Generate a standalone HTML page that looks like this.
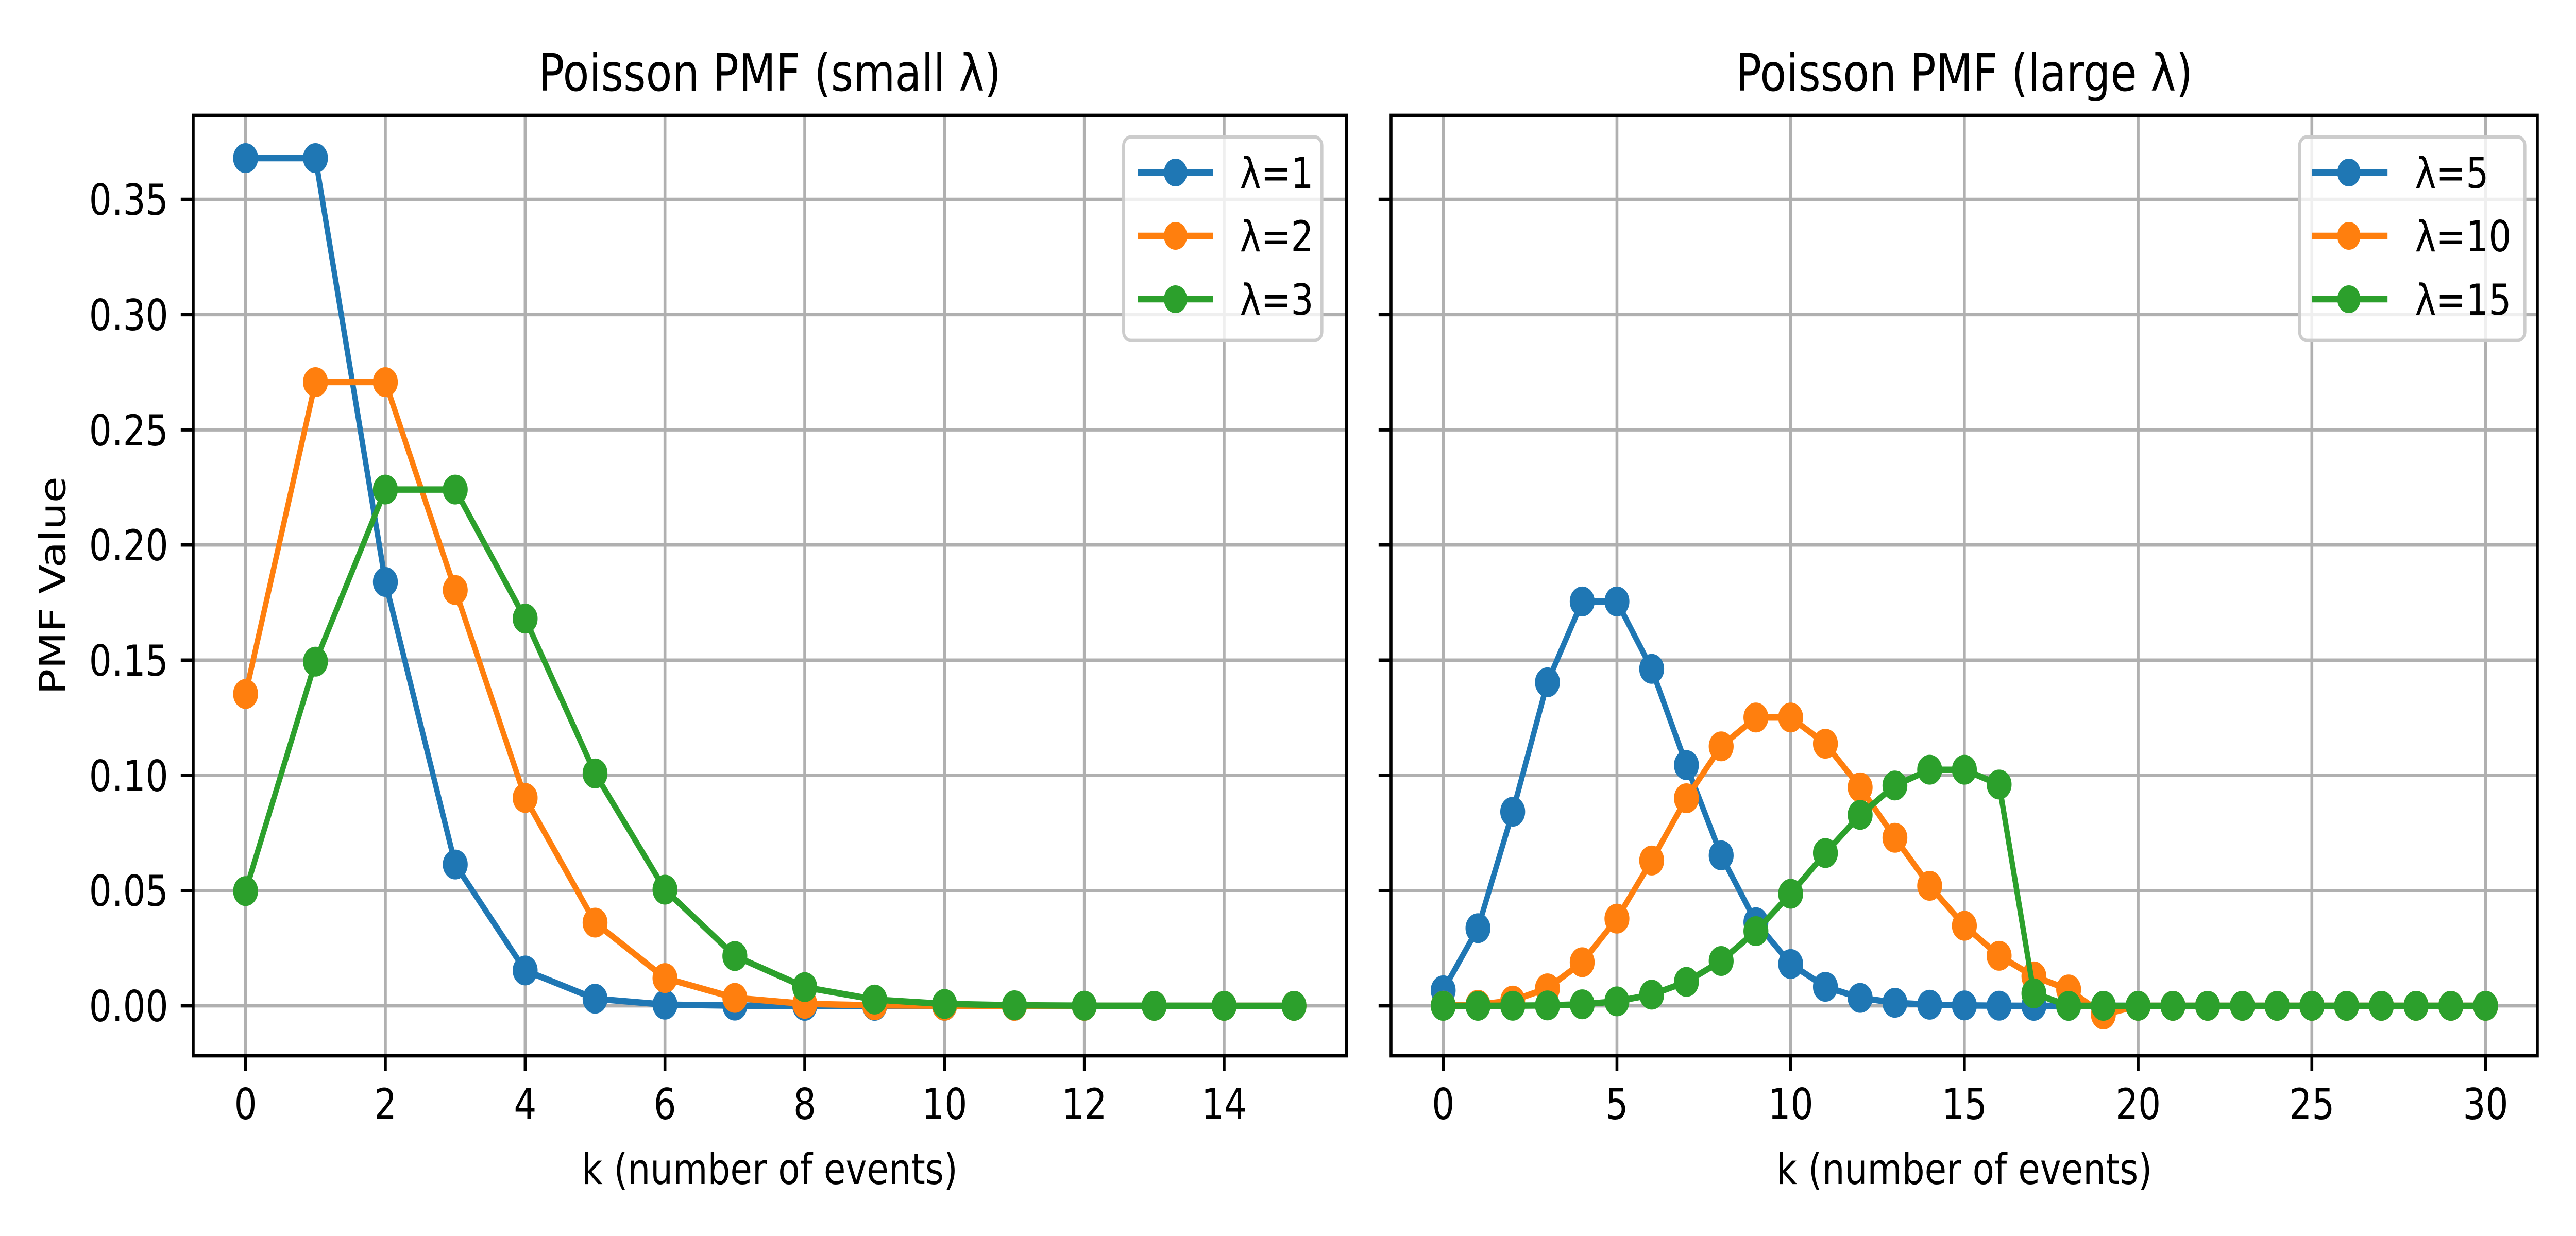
<!DOCTYPE html>
<html><head><meta charset="utf-8"><style>
html,body{margin:0;padding:0;background:#fff;width:100%;height:100%;overflow:hidden;}
svg{display:block;width:100vw;height:100vh;font-family:"DejaVu Sans","Liberation Sans",sans-serif;}
</style></head><body>
<svg id="s" viewBox="0 0 6000 2400" preserveAspectRatio="none" xmlns="http://www.w3.org/2000/svg">
<rect width="6000" height="2400" fill="#fff"/>
<g id="grid" stroke="#b0b0b0" stroke-width="6.7"></g>
<g id="series"></g>
<g id="frames" fill="none" stroke="#000" stroke-width="6.7">
<rect x="450" y="224" width="2686" height="1826"/>
<rect x="3240" y="224" width="2670" height="1826"/>
</g>
<g id="ticks" stroke="#000" stroke-width="6.7"></g>
<g font-size="83" fill="#000">
<g text-anchor="end">
<text x="392" y="1983">0.00</text>
<text x="392" y="1759">0.05</text>
<text x="392" y="1536">0.10</text>
<text x="392" y="1312">0.15</text>
<text x="392" y="1088">0.20</text>
<text x="392" y="865">0.25</text>
<text x="392" y="641">0.30</text>
<text x="392" y="417">0.35</text>
</g>
<g text-anchor="middle">
<text x="572" y="2173">0</text>
<text x="897.6" y="2173">2</text>
<text x="1223.2" y="2173">4</text>
<text x="1548.8" y="2173">6</text>
<text x="1874.4" y="2173">8</text>
<text x="2200" y="2173">10</text>
<text x="2525.6" y="2173">12</text>
<text x="2851.2" y="2173">14</text>
<text x="3361.5" y="2173">0</text>
<text x="3766.2" y="2173">5</text>
<text x="4170.8" y="2173">10</text>
<text x="4575.5" y="2173">15</text>
<text x="4980.1" y="2173">20</text>
<text x="5384.8" y="2173">25</text>
<text x="5789.4" y="2173">30</text>
<text x="1793" y="2299">k (number of events)</text>
<text x="4575" y="2299">k (number of events)</text>
<text x="1793" y="176" font-size="100">Poisson PMF (small λ)</text>
<text x="4575" y="176" font-size="100">Poisson PMF (large λ)</text>
<text x="0" y="0" transform="translate(152,1137) rotate(-90)">PMF Value</text>
</g>
</g>
<g id="legend"></g>
<g font-size="83" fill="#000">
<text x="2888" y="365">λ=1</text>
<text x="2888" y="488">λ=2</text>
<text x="2888" y="611">λ=3</text>
<text x="5625" y="365">λ=5</text>
<text x="5625" y="488">λ=10</text>
<text x="5625" y="611">λ=15</text>
</g>
</svg>
<script>
(function(){
var NS="http://www.w3.org/2000/svg";
function el(p,t,a){var e=document.createElementNS(NS,t);for(var k in a)e.setAttribute(k,a[k]);p.appendChild(e);return e;}
var Y=function(v){return 1953-4474.3*v;};
var XL=function(k){return 572+162.8*k;};
var XR=function(k){return 3361.5+80.93*k;};
var grid=document.getElementById('grid'),ticks=document.getElementById('ticks');
for(var i=0;i<8;i++){var y=1953-223.7*i;
 el(grid,'line',{x1:450,x2:3136,y1:y,y2:y});el(grid,'line',{x1:3240,x2:5910,y1:y,y2:y});
 el(ticks,'line',{x1:421,x2:450,y1:y,y2:y});el(ticks,'line',{x1:3211,x2:3240,y1:y,y2:y});}
for(var k=0;k<=14;k+=2){var x=XL(k);el(grid,'line',{x1:x,x2:x,y1:224,y2:2050});el(ticks,'line',{x1:x,x2:x,y1:2050,y2:2079});}
for(var k=0;k<=30;k+=5){var x=XR(k);el(grid,'line',{x1:x,x2:x,y1:224,y2:2050});el(ticks,'line',{x1:x,x2:x,y1:2050,y2:2079});}
function pois(l,k){var p=Math.exp(-l);for(var i=1;i<=k;i++)p*=l/i;return p;}
var cols=['#1f77b4','#ff7f0e','#2ca02c'];
var ser=document.getElementById('series');
function draw(X,vals,c){var d='';vals.forEach(function(v,k){d+=(k?'L':'M')+X(k).toFixed(1)+' '+Y(v).toFixed(1);});
 el(ser,'path',{d:d,fill:'none',stroke:c,'stroke-width':12.5,'stroke-linejoin':'round'});
 vals.forEach(function(v,k){el(ser,'circle',{cx:X(k),cy:Y(v),r:27,fill:c,stroke:c,'stroke-width':4});});}
[1,2,3].forEach(function(l,i){var a=[];for(var k=0;k<=15;k++)a.push(pois(l,k));draw(XL,a,cols[i]);});
[5,10,15].forEach(function(l,i){var a=[];for(var k=0;k<=30;k++){var v=pois(l,k);
 if(l==5&&k>=17)v=0;
 if(l==10){if(k==19)v=-0.0038;if(k>=20)v=0;}
 if(l==15){if(k==17)v=0.0054;if(k>=18)v=0;}
 a.push(v);}draw(XR,a,cols[i]);});
var lg=document.getElementById('legend');
function legend(x0,x1,lx0,lx1,mx){el(lg,'rect',{x:x0,y:266,width:x1-x0,height:395,rx:17,fill:'#fff','fill-opacity':0.8,stroke:'#cccccc','stroke-width':6.7});
 [335,458,581].forEach(function(y,i){el(lg,'line',{x1:lx0,x2:lx1,y1:y,y2:y,stroke:cols[i],'stroke-width':12.5});el(lg,'circle',{cx:mx,cy:y,r:27,fill:cols[i]});});}
legend(2617,3079,2650,2826,2738);legend(5356,5881,5385,5561,5471);
})();
</script>
</body></html>
